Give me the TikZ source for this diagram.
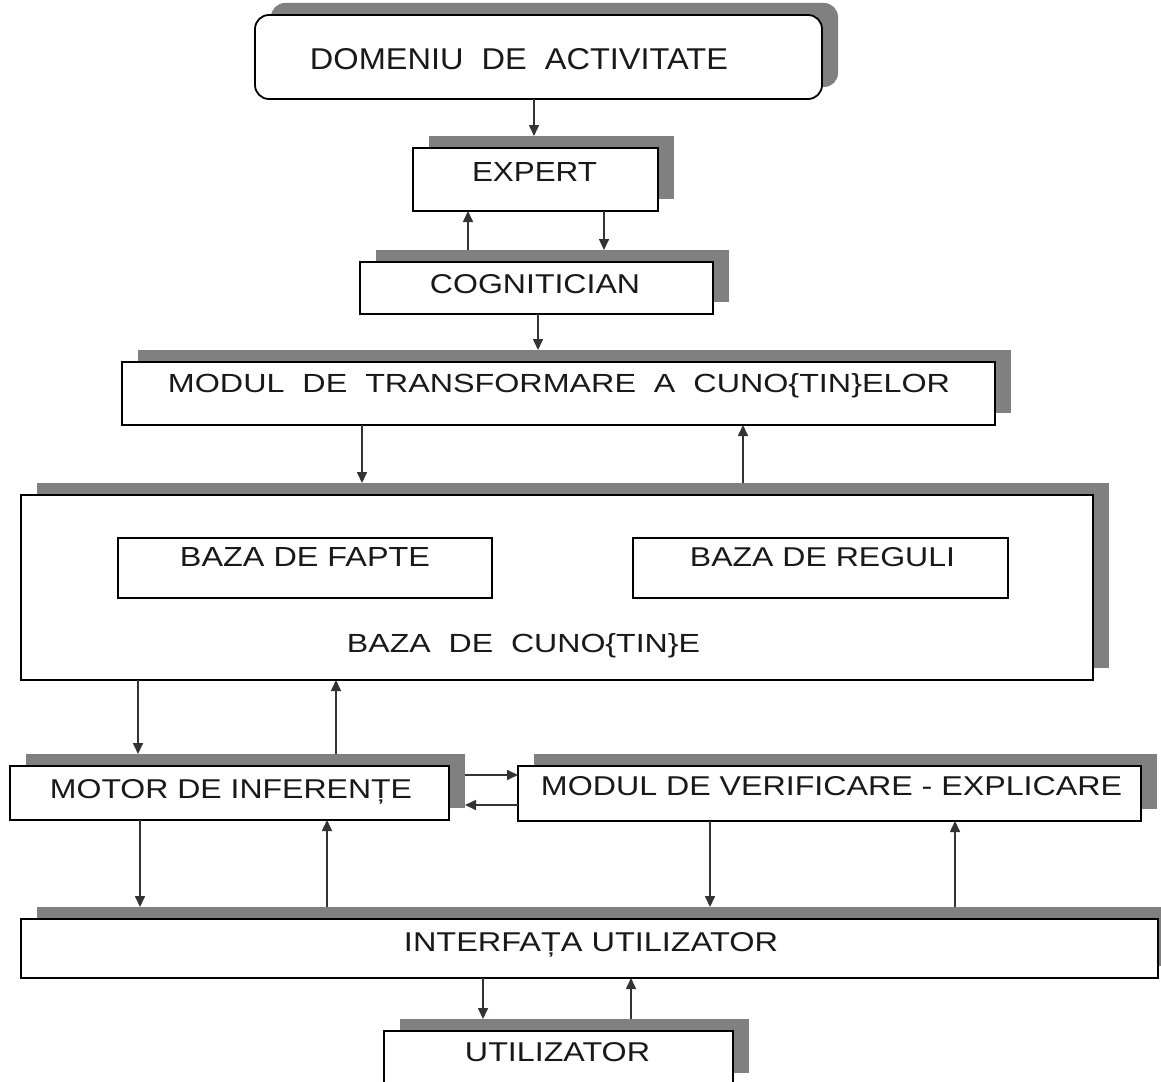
\documentclass[tikz,border=0pt]{standalone}
\usepackage{fontspec}
\setmainfont{Liberation Sans}
\usetikzlibrary{arrows.meta}
\definecolor{shadowgray}{HTML}{808080}
\definecolor{linegray}{HTML}{333333}
\newcommand\fitx[3]{\resizebox{#1pt}{#2pt}{#3}}
\newcommand\shbox[6][]{%
  \node[shadowbox,#1,minimum width=#5pt,minimum height=#6pt] (#2s) at (#3+16,#4-12) {};
  \node[mainbox,#1,minimum width=#5pt,minimum height=#6pt] (#2) at (#3,#4) {};}
\begin{document}
\begin{tikzpicture}[x=1pt,y=-1pt,
  shadowbox/.style={rectangle,fill=shadowgray,draw=none,inner sep=0pt,outer sep=0pt},
  mainbox/.style={rectangle,fill=white,draw=black,line width=1.8pt,inner sep=0pt,outer sep=0pt},
  plainbox/.style={rectangle,draw=black,line width=1.8pt,inner sep=0pt,outer sep=0pt},
  lbl/.style={anchor=base,inner sep=0pt,text=black!90},
  conn/.style={draw=linegray,line width=1.6pt,-{Triangle[length=11pt,width=10pt]}}]
\useasboundingbox (0,0) rectangle (1161,1081);
% boxes
\shbox[rounded corners=14pt]{dom}{538.5}{57}{567}{84}
\shbox{exp}{535.5}{179.5}{245}{63}
\shbox{cog}{536.5}{288}{353}{52}
\shbox{mtc}{558.5}{393.5}{873}{63}
\shbox{bc}{557}{587.5}{1072}{185}
\node[plainbox,minimum width=374pt,minimum height=60pt] (bf) at (305,568) {};
\node[plainbox,minimum width=375pt,minimum height=60pt] (br) at (820.5,568) {};
\shbox{mot}{229.5}{793}{439}{54}
\shbox{ver}{829.5}{793.5}{623}{55}
\shbox{int}{589.5}{948.5}{1137}{59}
\shbox{uti}{558.5}{1058}{349}{54}
% labels
\node[lbl] (tdom) at (519,69) {\fitx{418}{21}{DOMENIU\ \ DE\ \ ACTIVITATE}};
\node[lbl] (texp) at (534.5,181) {\fitx{125}{19}{EXPERT}};
\node[lbl] (tcog) at (535,293) {\fitx{210}{19}{COGNITICIAN}};
\node[lbl] (tmtc) at (559,392) {\fitx{782}{19}{MODUL\ \ DE\ \ TRANSFORMARE\ \ A\ \ CUNO\{TIN\}ELOR}};
\node[lbl] (tbf) at (305,566) {\fitx{250}{19}{BAZA DE FAPTE}};
\node[lbl] (tbr) at (822.5,566) {\fitx{265}{19}{BAZA DE REGULI}};
\node[lbl] (tbc) at (523.5,652) {\fitx{353}{19}{BAZA\ \ DE\ \ CUNO\{TIN\}E}};
\node[lbl] (tmot) at (231,798) {\fitx{362}{19}{MOTOR DE INFERENȚE}};
\node[lbl] (tver) at (831.5,795) {\fitx{581}{19}{MODUL DE VERIFICARE - EXPLICARE}};
\node[lbl] (tint) at (591,951) {\fitx{374}{19}{INTERFAȚA UTILIZATOR}};
\node[lbl] (tuti) at (557.5,1061) {\fitx{185}{19}{UTILIZATOR}};
% x positions
\coordinate (a1) at (534,0);
\coordinate (a2) at (468,0);
\coordinate (a3) at (604,0);
\coordinate (a4) at (538,0);
\coordinate (a5) at (362,0);
\coordinate (a6) at (743,0);
\coordinate (a7) at (138,0);
\coordinate (a8) at (336,0);
\coordinate (a9) at (0,775);
\coordinate (a10) at (0,805);
\coordinate (a11) at (140,0);
\coordinate (a12) at (327,0);
\coordinate (a13) at (710,0);
\coordinate (a14) at (955,0);
\coordinate (a15) at (483,0);
\coordinate (a16) at (631,0);
% connectors
\draw[conn] (dom.south -| a1) -- (exps.north -| a1);
\draw[conn] (cogs.north -| a2) -- (exp.south -| a2);
\draw[conn] (exp.south -| a3) -- (cogs.north -| a3);
\draw[conn] (cog.south -| a4) -- (mtcs.north -| a4);
\draw[conn] (mtc.south -| a5) -- (bcs.north -| a5);
\draw[conn] (bcs.north -| a6) -- (mtc.south -| a6);
\draw[conn] (bc.south -| a7) -- (mots.north -| a7);
\draw[conn] (mots.north -| a8) -- (bc.south -| a8);
\draw[conn] (mots.east |- a9) -- (ver.west |- a9);
\draw[conn] (ver.west |- a10) -- (mots.east |- a10);
\draw[conn] (mot.south -| a11) -- (ints.north -| a11);
\draw[conn] (ints.north -| a12) -- (mot.south -| a12);
\draw[conn] (ver.south -| a13) -- (ints.north -| a13);
\draw[conn] (ints.north -| a14) -- (ver.south -| a14);
\draw[conn] (int.south -| a15) -- (utis.north -| a15);
\draw[conn] (utis.north -| a16) -- (int.south -| a16);
\end{tikzpicture}
\end{document}
